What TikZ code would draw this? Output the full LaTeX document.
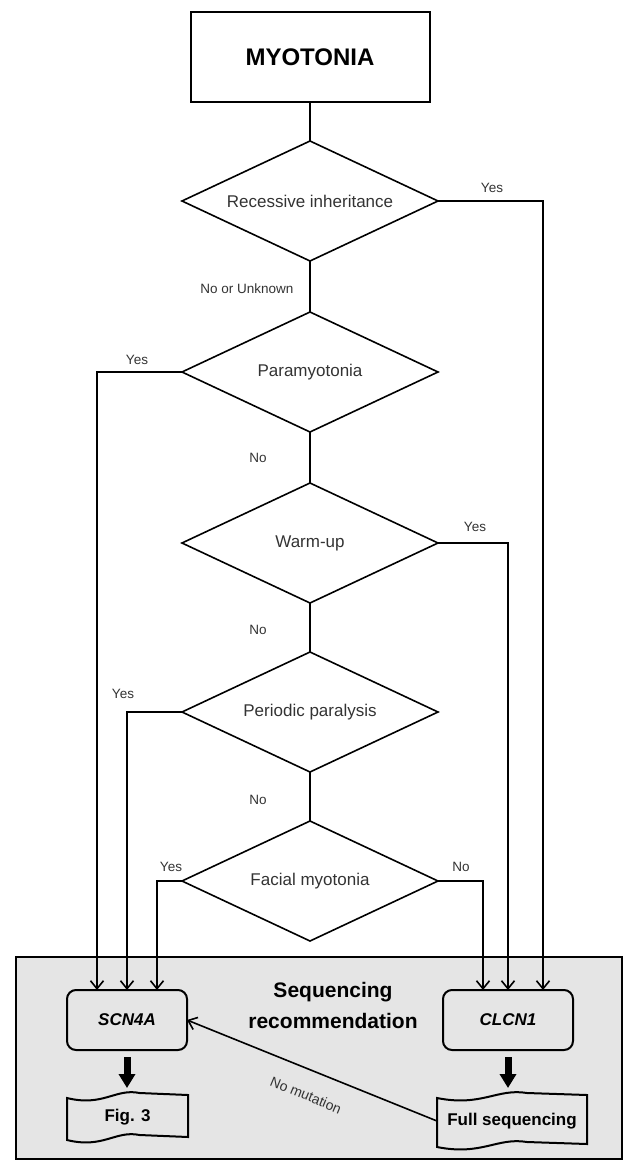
\documentclass[tikz,border=0pt]{standalone}
\usepackage{fontspec}
\setmainfont{Liberation Sans}
\usetikzlibrary{arrows.meta,shapes.geometric,calc}
\newcommand\tapeoutline[3]{%
  \begin{scope}[shift={(#1.north west)}]
    \draw[line width=2pt] (0,5) .. controls (0.3*#2,14) and (0.4*#2,-5) .. (0.6*#2,0)
      -- (#2,2) -- (#2,#3+2) -- (0.6*#2,#3)
      .. controls (0.4*#2,#3-5) and (0.3*#2,#3+14) .. (0,#3+5) -- cycle;
  \end{scope}}
\begin{document}
\begin{tikzpicture}[x=1pt,y=-1pt,line width=1.6pt,
  every node/.style={inner sep=0pt,outer sep=0pt},
  startbox/.style={draw,line width=2pt,minimum width=239pt,minimum height=90pt,font=\fontsize{24}{28}\selectfont\bfseries},
  dec/.style={diamond,draw,aspect=2.133,minimum width=256pt,minimum height=120pt,font=\fontsize{17}{20}\selectfont,text=black!80},
  lab/.style={font=\fontsize{13.5}{16}\selectfont,text=black!80},
  gene/.style={draw,line width=2pt,rounded corners=9pt,minimum height=60pt,font=\fontsize{17}{20}\selectfont\bfseries\itshape},
  docnode/.style={font=\fontsize{17}{20}\selectfont\bfseries},
  arr/.style={-{Straight Barb[length=8pt,width=13pt]}},
  fat/.style={-{Triangle[length=14pt,width=16pt]},line width=7pt},
  graybox/.style={draw,line width=1.5pt,fill=black!10,minimum width=606pt,minimum height=202pt}]

\useasboundingbox (0,0) rectangle (637,1161);

% background of sequencing section
\node[graybox] (seq) at (319,1058) {};
\node[font=\fontsize{21}{31}\selectfont\bfseries,align=center] (seqlab) at (333,1005) {Sequencing\\recommendation};

% top
\node[startbox] (myo) at (310,57) {MYOTONIA};
\node[dec] (d1) at (310,201) {Recessive inheritance};
\node[dec] (d2) at (310,372) {Paramyotonia};
\node[dec] (d3) at (310,543) {Warm-up};
\node[dec] (d4) at (310,712) {Periodic paralysis};
\node[dec] (d5) at (310,881) {Facial myotonia};

\draw (myo) -- (d1);
\draw (d1) -- (d2);
\draw (d2) -- (d3);
\draw (d3) -- (d4);
\draw (d4) -- (d5);

\node[lab] (l0) at (247,289) {No or Unknown};
\node[lab] (l1) at (258,458) {No};
\node[lab] (l2) at (258,630) {No};
\node[lab] (l3) at (258,800) {No};

% gene boxes
\node[gene,minimum width=120pt] (scn) at (127,1020) {SCN4A};
\node[gene,minimum width=130pt] (clc) at (508,1020) {CLCN1};

% yes / no branches
\draw[arr] (d1.east) -| ([xshift=35pt]clc.north);
\node[lab] (y1) at (492,188) {Yes};
\draw[arr] (d2.west) -| ([xshift=-30pt]scn.north);
\node[lab] (y2) at (137,360) {Yes};
\draw[arr] (d3.east) -| (clc.north);
\node[lab] (y3) at (475,527) {Yes};
\draw[arr] (d4.west) -| (scn.north);
\node[lab] (y4) at (123,694) {Yes};
\draw[arr] (d5.west) -| ([xshift=30pt]scn.north);
\node[lab] (y5) at (171,867) {Yes};
\draw[arr] (d5.east) -| ([xshift=-25pt]clc.north);
\node[lab] (n5) at (461,867) {No};

% document shapes
\node[docnode,minimum width=121pt,minimum height=49pt] (fig) at (127.5,1117.5) {Fig. 3};
\tapeoutline{fig}{121}{42}
\node[docnode,minimum width=150pt,minimum height=56pt] (full) at (512,1121) {\raisebox{-3pt}{Full sequencing}};
\tapeoutline{full}{150}{49}

\draw[fat] ([yshift=-7pt]scn.south) -- ([yshift=5pt]fig.north -| scn.south);
\draw[fat] ([yshift=-7pt]clc.south) -- ([yshift=5pt]full.north -| clc.south);

\draw[arr] (full.west) -- (scn.east);
\node[lab,font=\fontsize{14}{16}\selectfont,rotate=-22.5] (nm) at (306,1095) {No mutation};
\end{tikzpicture}
\end{document}
